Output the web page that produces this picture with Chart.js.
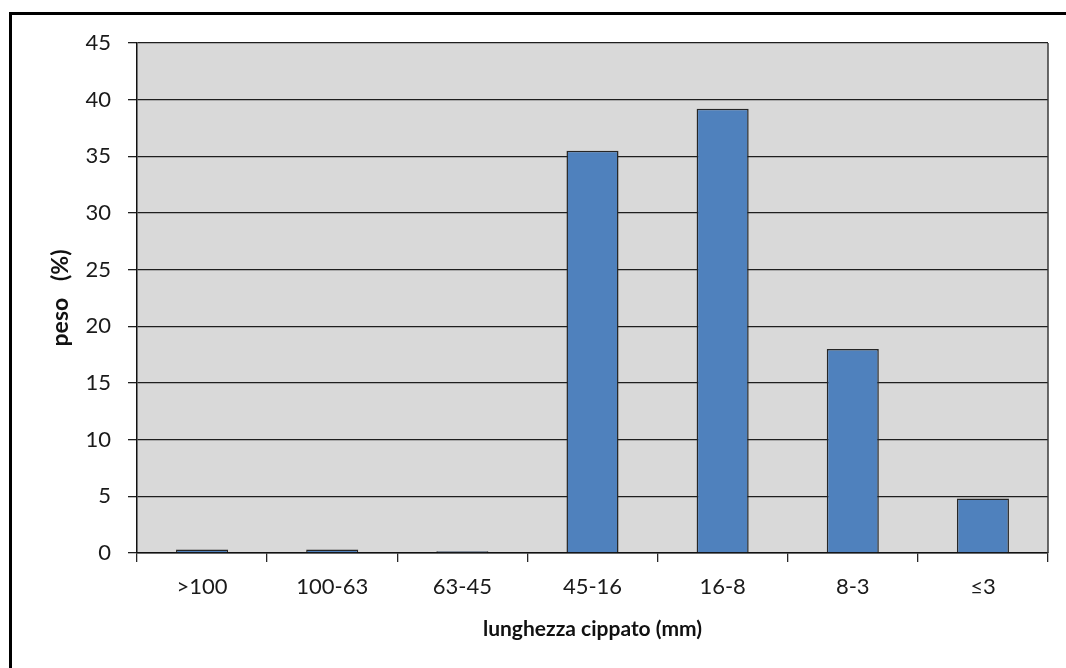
<!DOCTYPE html>
<html>
<head>
<meta charset="utf-8">
<script src="https://cdn.jsdelivr.net/npm/chart.js@4/dist/chart.umd.min.js"></script>
<style>
  html, body { margin: 0; padding: 0; background: #ffffff; }
  #wrap { position: relative; width: 1066px; height: 668px; overflow: hidden; }
  #frame { position: absolute; left: 9px; top: 12px; width: 1100px; height: 700px;
           border: 3px solid #000; box-sizing: border-box; }
  canvas { position: absolute; left: 0; top: 0; }
</style>
</head>
<body>
<div id="wrap">
  <div id="frame"></div>
  <canvas id="c" width="1066" height="668"></canvas>
</div>
<script>
// Particle-size distribution of wood chips
const categories = ['>100', '100-63', '63-45', '45-16', '16-8', '8-3', '≤3'];
const weightPct = [0.3, 0.3, 0.15, 35.5, 39.2, 18.0, 4.8];
const yTicks = [0, 5, 10, 15, 20, 25, 30, 35, 40, 45];

const FONT = 'Lato, "Open Sans", "DejaVu Sans", sans-serif';

// grey plot background plus a right-hand frame line
const plotArea = {
  id: 'plotArea',
  beforeDraw(chart) {
    const { ctx, chartArea: a } = chart;
    ctx.save();
    ctx.fillStyle = '#d9d9d9';
    ctx.fillRect(a.left, a.top, a.right - a.left, a.bottom - a.top);
    ctx.restore();
  },
  afterDatasetsDraw(chart) {
    const { ctx, chartArea: a } = chart;
    ctx.save();
    ctx.strokeStyle = '#3a3a3a';
    ctx.lineWidth = 1.5;
    ctx.beginPath();
    ctx.moveTo(a.right, a.top);
    ctx.lineTo(a.right, a.bottom);
    ctx.stroke();
    ctx.restore();
  }
};

new Chart(document.getElementById('c'), {
  type: 'bar',
  data: {
    labels: categories,
    datasets: [{
      data: weightPct,
      backgroundColor: '#4f81bd',
      borderColor: '#262626',
      borderWidth: 1.5,
      barPercentage: 0.4,
      categoryPercentage: 1.0
    }]
  },
  options: {
    responsive: false,
    animation: false,
    events: [],
    layout: { padding: { left: 0, top: 43, right: 18, bottom: 0 } },
    plugins: { legend: { display: false }, tooltip: { enabled: false } },
    scales: {
      x: {
        offset: true,
        afterFit(scale) { scale.height = 115; },
        grid: {
          offset: true,
          drawOnChartArea: false,
          drawTicks: true,
          tickLength: 9,
          color: '#262626',
          lineWidth: 1.3
        },
        border: { display: true, color: '#111', width: 1.5 },
        ticks: {
          color: '#1a1a1a',
          font: { family: FONT, size: 22 },
          padding: 12,
          maxRotation: 0
        },
        title: {
          display: true,
          text: 'lunghezza cippato (mm)',
          color: '#111',
          font: { family: FONT, size: 21, weight: 'bold' },
          padding: { top: 0, bottom: 26 }
        }
      },
      y: {
        min: 0,
        max: 45,
        afterFit(scale) { scale.width = 137; },
        afterBuildTicks(scale) { scale.ticks = yTicks.map(v => ({ value: v })); },
        grid: {
          color: '#1e1e1e',
          lineWidth: 1.3,
          tickLength: 9,
          drawTicks: true
        },
        border: { display: true, color: '#111', width: 1.5 },
        ticks: {
          color: '#1a1a1a',
          font: { family: FONT, size: 22 },
          padding: 17
        },
        title: {
          display: true,
          text: 'peso   (%)',
          color: '#111',
          font: { family: FONT, size: 23, weight: 'bold' },
          padding: { top: 47, bottom: 0 }
        }
      }
    }
  },
  plugins: [plotArea]
});
</script>
</body>
</html>
